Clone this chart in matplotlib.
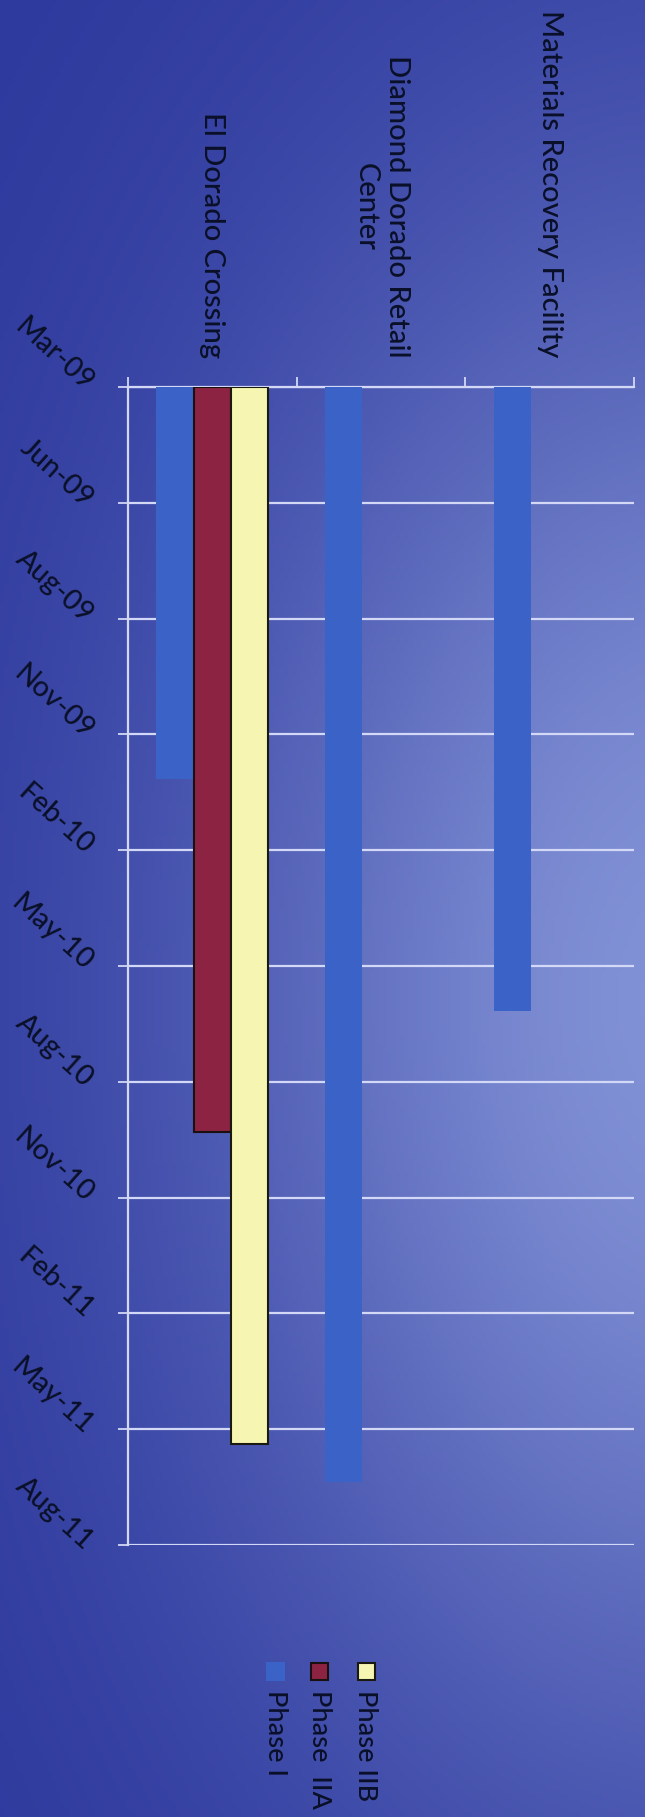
import numpy as np
import matplotlib
matplotlib.use("Agg")
import matplotlib.pyplot as plt
import matplotlib.dates as mdates
from matplotlib.patches import Rectangle

# ---------------- data ----------------
categories = ["El Dorado Crossing", "Diamond Dorado Retail\nCenter", "Materials Recovery Facility"]
series_names = ["Phase I", "Phase  IIA", "Phase IIB"]
start_date = "2009-03-05"
phase1_end = ["2009-12-28", "2011-06-15", "2010-06-22"]
phase2a_end = ["2010-09-22", None, None]
phase2b_end = ["2011-05-17", None, None]
tick_labels = ["Mar-09", "Jun-09", "Aug-09", "Nov-09", "Feb-10", "May-10",
               "Aug-10", "Nov-10", "Feb-11", "May-11", "Aug-11"]
tick_step_days = 88

# ---------------- style ----------------
colors = ["#3b62c6", "#8c2342", "#f6f6b2"]
edges = ["none", "#1a1010", "#1a1a10"]
text_color = "#0a1028"
grid_color = "#d2d8f6"
FONT = ["Lato", "DejaVu Sans"]
plt.rcParams["font.family"] = FONT
plt.rcParams["font.weight"] = "medium"

W, H = 645, 1817
fig = plt.figure(figsize=(W / 100, H / 100), dpi=100)

# background gradient
bg = fig.add_axes([0, 0, 1, 1], zorder=-10)
ny, nx = 400, 150
yy, xx = np.mgrid[0:1:ny * 1j, 0:1:nx * 1j]
f = np.exp(-((xx - 1.08) / 0.78) ** 2 - ((yy - 0.55) / 0.45) ** 2)
dark = np.array([0x2c, 0x37, 0x9c]) / 255
light = np.array([0x82, 0x92, 0xd6]) / 255
img = dark[None, None, :] + (light - dark)[None, None, :] * f[:, :, None]
bg.imshow(img, aspect="auto", extent=[0, 1, 0, 1], origin="upper")
bg.axis("off")

# main axes
left, right, top, bottom = 128, 634, 387, 1545
ax = fig.add_axes([left / W, 1 - bottom / H, (right - left) / W, (bottom - top) / H])
ax.set_facecolor("none")

t0 = mdates.datestr2num(start_date)
ticks = [t0 + i * tick_step_days for i in range(len(tick_labels))]

x = np.arange(len(categories))
width = 0.222
offsets = [-0.222, 0.0, 0.222]
for i, ends in enumerate([phase1_end, phase2a_end, phase2b_end]):
    xs, bots, hts = [], [], []
    for j, e in enumerate(ends):
        if e is None:
            continue
        xs.append(x[j] + offsets[i])
        bots.append(t0)
        hts.append(mdates.datestr2num(e) - t0)
    ax.bar(xs, hts, bottom=bots, width=width, color=colors[i],
           edgecolor=edges[i], linewidth=1.5 if edges[i] != "none" else 0,
           zorder=3, label=series_names[i])

ax.set_xlim(-0.5, len(categories) - 0.5)
ax.set_ylim(ticks[-1], ticks[0])

# y axis (dates)
ax.set_yticks(ticks)
ax.set_yticklabels(tick_labels)
ax.tick_params(axis="y", direction="out", length=7, width=1.3, color=grid_color,
               pad=21, labelsize=20.5, labelcolor=text_color)
for lab in ax.get_yticklabels():
    lab.set_rotation(-42)
    lab.set_rotation_mode("anchor")
    lab.set_ha("right")
    lab.set_va("center")
ax.yaxis.grid(True, color=grid_color, linewidth=1.6, zorder=1)

# x axis (categories) on top
ax.xaxis.tick_top()
ax.set_xticks(x)
ax.set_xticklabels(categories, rotation=-90, ha="center", va="bottom",
                   multialignment="center", linespacing=1.25)
ax.tick_params(axis="x", which="major", length=0, pad=21, labelsize=21,
               labelcolor=text_color)
ax.set_xticks(np.arange(len(categories) + 1) - 0.5, minor=True)
ax.tick_params(axis="x", which="minor", direction="out", length=7, width=1.3,
               color=grid_color, top=True, bottom=False)

for s in ["right", "bottom"]:
    ax.spines[s].set_visible(False)
for s in ["left", "top"]:
    ax.spines[s].set_color(grid_color)
    ax.spines[s].set_linewidth(1.6)
    ax.spines[s].set_zorder(2)

# legend (drawn manually, rotated like the chart)
leg_x = [275, 319, 366]
msize = 17
for i in range(3):
    cx = leg_x[i]
    r = Rectangle(((cx - msize / 2) / W, 1 - 1680 / H), msize / W, msize / H,
                  transform=fig.transFigure, facecolor=colors[i],
                  edgecolor=edges[i] if edges[i] != "none" else colors[i],
                  linewidth=1.5)
    fig.add_artist(r)
    fig.text(cx / W, 1 - 1690 / H, series_names[i], rotation=-90, ha="center",
             va="top", fontsize=19.5, color=text_color)

fig.savefig("out.png", dpi=100)
